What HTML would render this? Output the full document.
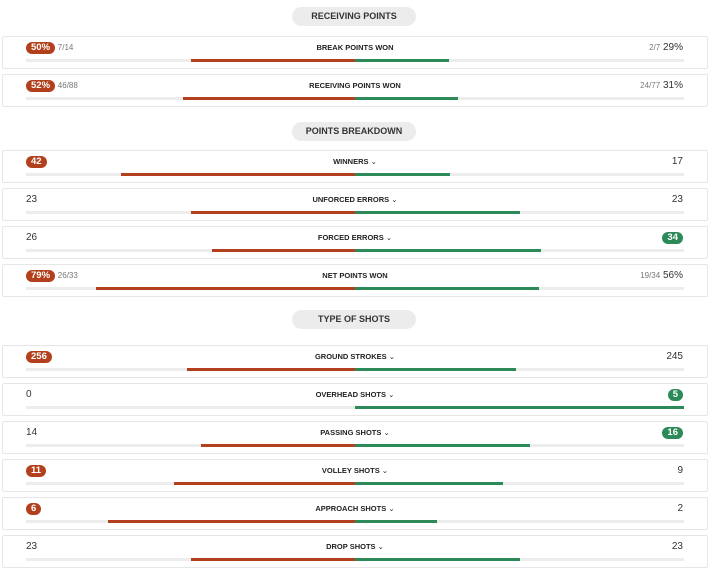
<!DOCTYPE html>
<html><head><meta charset="utf-8">
<style>
body{margin:0;width:720px;height:568px;background:#fff;font-family:"Liberation Sans",sans-serif;position:relative;overflow:hidden;color:#222}
.pill{position:absolute;left:292px;width:124px;height:19px;border-radius:10px;background:#ececec;font-size:9px;font-weight:bold;text-align:center;line-height:19px;color:#333}
.card{position:absolute;left:2px;width:704px;height:31px;border:1px solid #e6e6e6;border-radius:2px;background:#fff}
.lab{position:absolute;left:0;width:704px;text-align:center;top:6px;font-size:7.5px;font-weight:bold;color:#222}
.lv{position:absolute;left:23px;top:5px;font-size:10px;color:#333}
.rv{position:absolute;right:24px;top:5px;font-size:10px;color:#333}
.bd{display:inline-block;color:#fff;font-weight:bold;border-radius:7px;padding:0 5px;height:12px;line-height:12px;font-size:9.5px}
.sm{font-size:8px;color:#777}
.track{position:absolute;left:23px;width:658px;top:22px;height:3px;background:#ececec}
.bar{position:absolute;top:0;height:3px}
</style></head><body>
<div id="root"></div>
<script>
const sections=["RECEIVING POINTS","POINTS BREAKDOWN","TYPE OF SHOTS"];
const pillTops=[7,122,310];
const labels=["BREAK POINTS WON","RECEIVING POINTS WON","WINNERS","UNFORCED ERRORS","FORCED ERRORS","NET POINTS WON","GROUND STROKES","OVERHEAD SHOTS","PASSING SHOTS","VOLLEY SHOTS","APPROACH SHOTS","DROP SHOTS"];
const rowSection=[0,0,1,1,1,1,2,2,2,2,2,2];
const leftVals=[7,46,42,23,26,26,256,0,14,11,6,23];
const leftTot=[14,88,null,null,null,33,null,null,null,null,null,null];
const rightVals=[2,24,17,23,34,19,245,5,16,9,2,23];
const rightTot=[7,77,null,null,null,34,null,null,null,null,null,null];
const dropdown=[false,false,true,true,true,false,true,true,true,true,true,true];
const root=document.getElementById('root');
const RED='#b3401d',GREEN='#2b8a57';
sections.forEach((s,i)=>{const p=document.createElement('div');p.className='pill';p.style.top=pillTops[i]+'px';p.textContent=s;


root.appendChild(p);});
const rowTops=[36,74,150,188,226,264,345,383,421,459,497,535];
labels.forEach((lab,i)=>{
 const c=document.createElement('div');c.className='card';c.style.top=rowTops[i]+'px';
 
 
 const l=leftVals[i],r=rightVals[i];let lf,rf,lt,rt;
 if(leftTot[i]!=null){lf=l/leftTot[i];rf=r/rightTot[i];lt=Math.round(lf*100)+'%';rt=Math.round(rf*100)+'%';}
 else{const t=l+r||1;lf=l/t;rf=r/t;lt=String(l);rt=String(r);}
 const lw=lf>rf||(leftTot[i]!=null&&lf>=rf), rw=rf>lf;
 const half=329;
 let lh='',rh='';
 lh=lw?`<span class="bd" style="background:${RED}">${lt}</span>`:lt;
 rh=rw?`<span class="bd" style="background:${GREEN}">${rt}</span>`:rt;
 if(leftTot[i]!=null){lh+=` <span class="sm">${l}/${leftTot[i]}</span>`;rh=`<span class="sm">${r}/${rightTot[i]}</span> `+rh;}
 c.innerHTML=`<div class="lv">${lh}</div>
 <div class="lab">${lab}${dropdown[i]?' <span style="font-weight:normal">&#8964;</span>':''}</div>
 <div class="rv">${rh}</div>
 <div class="track">
 <div class="bar" style="background:${RED};left:${half-lf*half}px;width:${lf*half}px"></div>
 <div class="bar" style="background:${GREEN};left:${half}px;width:${rf*half}px"></div></div>`;
 root.appendChild(c);
});
</script>
</body></html>
